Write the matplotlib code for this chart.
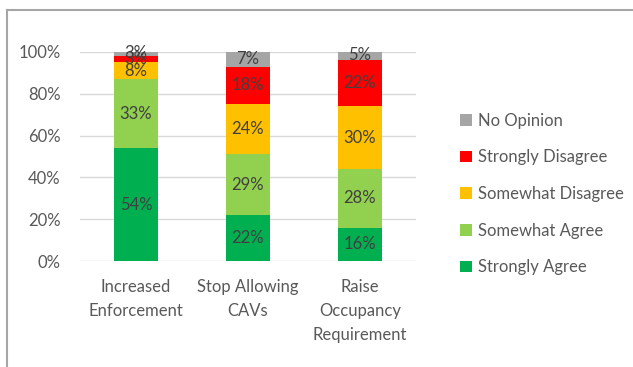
import matplotlib
matplotlib.use("Agg")
import matplotlib.pyplot as plt
from matplotlib.lines import Line2D
from matplotlib.patches import Patch
import numpy as np

plt.rcParams['font.family'] = ['Lato', 'DejaVu Sans']

categories = ["Increased\nEnforcement", "Stop Allowing\nCAVs", "Raise\nOccupancy\nRequirement"]
series_names = ["Strongly Agree", "Somewhat Agree", "Somewhat Disagree", "Strongly Disagree", "No Opinion"]
strongly_agree = [54, 22, 16]
somewhat_agree = [33, 29, 28]
somewhat_disagree = [8, 24, 30]
strongly_disagree = [3, 18, 22]
no_opinion = [3, 7, 5]
y_ticks = [0, 20, 40, 60, 80, 100]
y_tick_labels = ["0%", "20%", "40%", "60%", "80%", "100%"]

colors = ["#00B050", "#92D050", "#FFC000", "#FF0000", "#A5A5A5"]
series = [strongly_agree, somewhat_agree, somewhat_disagree, strongly_disagree, no_opinion]

W, H = 633, 367
fig = plt.figure(figsize=(W / 100, H / 100), dpi=100)
ax = fig.add_axes([80 / W, 1 - 261 / H, 336 / W, 209 / H])

x = np.arange(len(categories))
bottom = np.zeros(len(categories))
for name, vals, col in zip(series_names, series, colors):
    v = np.array(vals, dtype=float) / 100
    ax.bar(x, v, 0.4, bottom=bottom, color=col, label=name, zorder=2)
    for xi, b, h, raw in zip(x, bottom, v, vals):
        ax.text(xi, b + h / 2, f"{raw}%", ha="center", va="center",
                fontsize=12, color="#404040", zorder=3)
    bottom += v

ax.set_xlim(-0.5, 2.5)
ax.set_ylim(0, 1.0)
ax.set_yticks(np.array(y_ticks) / 100)
ax.set_yticklabels(y_tick_labels, fontsize=12, color="#595959")
ax.set_xticks(x)
ax.set_xticklabels(categories, fontsize=12, color="#595959", linespacing=1.6)
ax.tick_params(axis="y", length=0, pad=14)
ax.tick_params(axis="x", length=0, pad=13)
ax.yaxis.grid(True, color="#D9D9D9", lw=1, zorder=0)
for s in ax.spines.values():
    s.set_visible(False)

handles = [Patch(facecolor=c, edgecolor="none") for c in colors][::-1]
labels = series_names[::-1]
fig.legend(handles, labels, loc="center left", bbox_to_anchor=(445 / W, 1 - 194 / H),
           frameon=False, fontsize=12, handlelength=0.7, handleheight=0.7,
           handletextpad=0.4, labelspacing=1.24, labelcolor="#595959")

# chart frame
fig.add_artist(Line2D([7 / W, 7 / W], [0, 1 - 10 / H], color="#A6A6A6", lw=1.5))
fig.add_artist(Line2D([7 / W, 1], [1 - 10 / H, 1 - 10 / H], color="#A6A6A6", lw=1.5))

fig.savefig("out.png", dpi=100)
